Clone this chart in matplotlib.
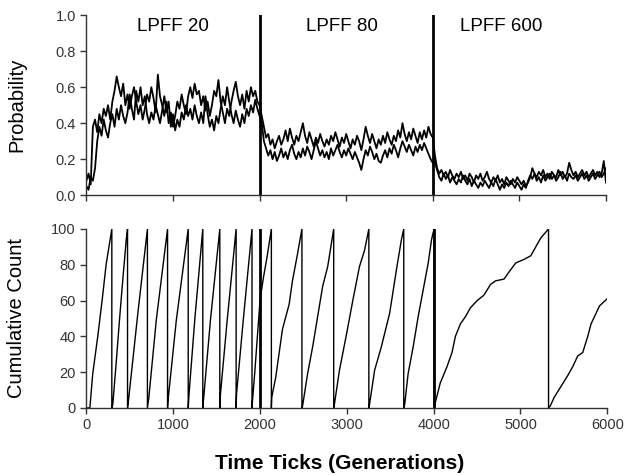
import numpy as np
import matplotlib
matplotlib.use("Agg")
import matplotlib.pyplot as plt

plt.rcParams["font.family"] = ["Liberation Sans", "DejaVu Sans"]

time_ticks = np.arange(0, 6001, 25)

prob_a = [
    # LPFF 20 (0..2000)
    0.08, 0.12, 0.06, 0.38, 0.42, 0.35, 0.45, 0.40, 0.48, 0.44,
    0.50, 0.42, 0.52, 0.58, 0.66, 0.60, 0.55, 0.62, 0.50, 0.56,
    0.48, 0.55, 0.60, 0.52, 0.45, 0.50, 0.42, 0.48, 0.56, 0.52,
    0.60, 0.54, 0.46, 0.67, 0.55, 0.50, 0.44, 0.52, 0.40, 0.46,
    0.38, 0.44, 0.52, 0.48, 0.56, 0.50, 0.45, 0.55, 0.60, 0.54,
    0.62, 0.56, 0.58, 0.50, 0.55, 0.47, 0.52, 0.44, 0.50, 0.58,
    0.55, 0.64, 0.52, 0.46, 0.40, 0.48, 0.44, 0.52, 0.58, 0.63,
    0.55, 0.50, 0.56, 0.48, 0.58, 0.52, 0.60, 0.55, 0.58, 0.52,
    0.50,
    # LPFF 80 (2025..4000)
    0.44, 0.38, 0.32, 0.34, 0.28, 0.31, 0.26, 0.30, 0.33, 0.28,
    0.31, 0.36, 0.30, 0.37, 0.32, 0.28, 0.33, 0.30, 0.35, 0.40,
    0.33, 0.29, 0.35, 0.31, 0.27, 0.32, 0.29, 0.34, 0.30, 0.27,
    0.31, 0.28, 0.33, 0.30, 0.35, 0.31, 0.27, 0.32, 0.29, 0.34,
    0.30, 0.26, 0.31, 0.28, 0.33, 0.30, 0.25, 0.31, 0.38, 0.33,
    0.29, 0.34, 0.30, 0.26, 0.31, 0.28, 0.33, 0.29, 0.35, 0.31,
    0.28, 0.33, 0.30, 0.36, 0.32, 0.40, 0.34, 0.30, 0.35, 0.31,
    0.37, 0.33, 0.29, 0.35, 0.31, 0.36, 0.32, 0.38, 0.34, 0.32,
    # LPFF 600 (4025..6000)
    0.22, 0.15, 0.12, 0.14, 0.11, 0.13, 0.10, 0.14, 0.11, 0.09,
    0.12, 0.10, 0.13, 0.09, 0.11, 0.08, 0.12, 0.10, 0.07, 0.11,
    0.09, 0.12, 0.08, 0.10, 0.13, 0.09, 0.07, 0.10, 0.08, 0.11,
    0.07, 0.09, 0.06, 0.10, 0.08, 0.06, 0.09, 0.07, 0.10, 0.08,
    0.06, 0.08, 0.05, 0.07, 0.10, 0.15, 0.12, 0.10, 0.13, 0.11,
    0.14, 0.10, 0.12, 0.09, 0.13, 0.11, 0.10, 0.14, 0.11, 0.13,
    0.10, 0.12, 0.18, 0.14, 0.11, 0.13, 0.10, 0.12, 0.14, 0.11,
    0.13, 0.10, 0.12, 0.14, 0.11, 0.13, 0.10, 0.12, 0.19, 0.07,
]

prob_b = [
    # LPFF 20
    0.05, 0.03, 0.10, 0.08, 0.15, 0.30, 0.38, 0.33, 0.42, 0.36,
    0.32, 0.40, 0.45, 0.38, 0.48, 0.42, 0.50, 0.44, 0.40, 0.46,
    0.56, 0.48, 0.42, 0.58, 0.52, 0.60, 0.50, 0.55, 0.45, 0.40,
    0.46, 0.42, 0.50, 0.45, 0.40, 0.47, 0.55, 0.46, 0.52, 0.38,
    0.45, 0.36, 0.42, 0.38, 0.46, 0.42, 0.50, 0.44, 0.48, 0.42,
    0.50, 0.44, 0.40, 0.46, 0.40, 0.55, 0.45, 0.38, 0.42, 0.36,
    0.44, 0.40, 0.48, 0.55, 0.50, 0.60, 0.52, 0.45, 0.40, 0.47,
    0.42, 0.38, 0.45, 0.40, 0.48, 0.44, 0.50, 0.46, 0.53, 0.48,
    0.44,
    # LPFF 80
    0.40, 0.30, 0.26, 0.22, 0.25, 0.20, 0.24, 0.19, 0.22, 0.26,
    0.21, 0.24, 0.20, 0.25, 0.28, 0.23, 0.20, 0.24, 0.21, 0.26,
    0.22, 0.27, 0.24, 0.20, 0.25, 0.30, 0.26, 0.22, 0.25, 0.21,
    0.24, 0.20, 0.26, 0.22, 0.25, 0.28, 0.24, 0.21, 0.25, 0.22,
    0.26, 0.23, 0.20, 0.24, 0.21, 0.18, 0.14, 0.20, 0.25, 0.22,
    0.27, 0.24, 0.20, 0.23, 0.19, 0.18, 0.22, 0.25, 0.21, 0.26,
    0.23, 0.28, 0.25, 0.21, 0.26, 0.30, 0.27, 0.24, 0.28, 0.25,
    0.22, 0.27, 0.24, 0.28, 0.25, 0.29, 0.26, 0.23, 0.20, 0.18,
    # LPFF 600
    0.18, 0.14, 0.10, 0.08, 0.12, 0.09, 0.11, 0.07, 0.10, 0.08,
    0.06, 0.09, 0.07, 0.11, 0.08, 0.06, 0.09, 0.05, 0.08, 0.06,
    0.04, 0.07, 0.05, 0.08, 0.06, 0.04, 0.07, 0.05, 0.09, 0.06,
    0.03, 0.06, 0.04, 0.07, 0.05, 0.08, 0.06, 0.04, 0.07, 0.05,
    0.03, 0.06, 0.04, 0.08, 0.11, 0.09, 0.12, 0.08, 0.10, 0.07,
    0.11, 0.08, 0.10, 0.12, 0.09, 0.11, 0.08, 0.10, 0.13, 0.09,
    0.11, 0.08, 0.12, 0.10, 0.09, 0.11, 0.08, 0.10, 0.12, 0.09,
    0.11, 0.08, 0.10, 0.12, 0.09, 0.11, 0.13, 0.10, 0.12, 0.15,
]

# ---- cumulative count readings (each reset drops back to 0) ----
count_time = [
    0, 40, 73, 131, 181, 227, 293, 293,
    304, 343, 381, 420, 459, 474, 474,
    489, 593, 703, 703,
    720, 805, 935, 935,
    940, 1036, 1173, 1173,
    1183, 1248, 1341, 1341,
    1352, 1429, 1537, 1537,
    1545, 1622, 1725, 1725,
    1730, 1807, 1908, 1908,
    1912, 1940, 1970, 2000, 2040, 2080, 2131, 2131,
    2135, 2181, 2259, 2336, 2374, 2432, 2483, 2483,
    2490, 2548, 2606, 2664, 2722, 2780, 2849, 2849,
    2857, 2915, 2992, 3069, 3146, 3204, 3254, 3254,
    3262, 3320, 3397, 3494, 3571, 3629, 3656, 3656,
    3667, 3706, 3764, 3822, 3880, 3938, 3976, 4000, 4007, 4007,
    4019, 4077, 4154, 4212, 4251, 4309, 4367, 4425, 4502, 4579,
    4656, 4714, 4811, 4869, 4946, 5042, 5119, 5177, 5235, 5324, 5324,
    5343, 5390, 5467, 5544, 5602, 5660, 5718, 5776, 5814, 5853, 5911, 6000,
]
count_value = [
    0, 0, 19, 40, 60, 80, 100, 0,
    2, 25, 49, 72, 94, 100, 0,
    6, 53, 100, 0,
    6, 49, 100, 0,
    4, 49, 100, 0,
    8, 49, 100, 0,
    6, 49, 100, 0,
    8, 49, 100, 0,
    8, 49, 100, 0,
    3, 20, 40, 60, 73, 84, 100, 0,
    6, 17, 44, 58, 71, 86, 100, 0,
    1, 19, 34, 51, 68, 79, 100, 0,
    2, 21, 40, 60, 79, 88, 100, 0,
    2, 21, 34, 53, 77, 94, 100, 0,
    2, 19, 34, 51, 66, 81, 94, 99, 100, 0,
    3, 14, 23, 31, 40, 47, 51, 56, 60, 63,
    69, 71, 72, 76, 81, 83, 85, 90, 95, 100, 0,
    1, 6, 12, 18, 23, 29, 31, 40, 47, 51, 57, 61,
]

regime_bounds = [2000, 4000]
regime_names = ["LPFF 20", "LPFF 80", "LPFF 600"]
regime_label_x = [1000, 2950, 4790]

fig = plt.figure(figsize=(6.26, 4.76), dpi=100)
ax1 = fig.add_axes([0.138, 0.590, 0.830, 0.378])
ax2 = fig.add_axes([0.138, 0.143, 0.832, 0.376])

ax1.plot(time_ticks, prob_b, color="black", lw=1.3)
ax1.plot(time_ticks, prob_a, color="black", lw=1.3)
for b in regime_bounds:
    ax1.plot([b, b], [0, 1], color="black", lw=2.0)
for name, xpos in zip(regime_names, regime_label_x):
    ax1.text(xpos, 0.935, name, ha="center", va="center", fontsize=13.5)

ax2.plot(count_time, count_value, color="black", lw=1.0)
for b in regime_bounds:
    ax2.plot([b, b], [0, 100], color="black", lw=2.0)

ax1.set_xlim(0, 6000)
ax1.set_ylim(0, 1.0)
ax1.set_xticks(np.arange(0, 6001, 1000))
ax1.set_xticklabels([])
ax1.set_yticks(np.arange(0, 1.01, 0.2))
ax1.set_yticklabels(["0.0", "0.2", "0.4", "0.6", "0.8", "1.0"])
ax1.set_ylabel("Probability", fontsize=14.5)
ax1.yaxis.set_label_coords(-0.115, 0.5)

ax2.set_xlim(0, 6000)
ax2.set_ylim(0, 100)
ax2.set_xticks(np.arange(0, 6001, 1000))
ax2.set_yticks(np.arange(0, 101, 20))
ax2.set_ylabel("Cumulative Count", fontsize=14.5)
ax2.yaxis.set_label_coords(-0.115, 0.5)
ax2.set_xlabel("Time Ticks (Generations)", fontsize=15, fontweight="bold")
ax2.xaxis.set_label_coords(0.487, -0.26)

for ax in (ax1, ax2):
    for side in ("top", "right"):
        ax.spines[side].set_visible(False)
    for side in ("left", "bottom"):
        ax.spines[side].set_color("#333333")
        ax.spines[side].set_linewidth(1.0)
    ax.tick_params(direction="out", length=4, width=1, colors="#333333",
                   labelsize=10.5, labelcolor="#333333")

fig.savefig("out.png", dpi=100)
